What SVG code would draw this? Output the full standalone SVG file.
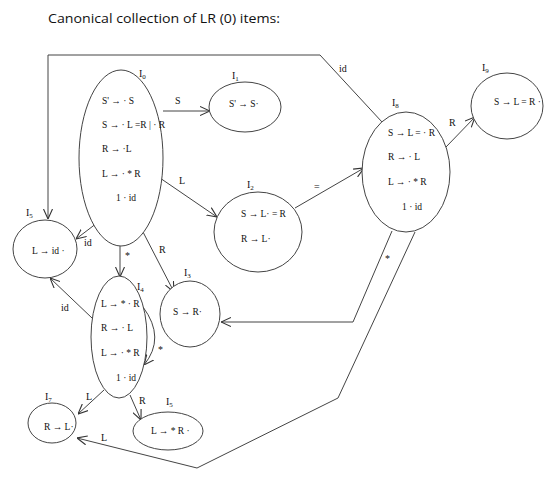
<svg xmlns="http://www.w3.org/2000/svg" width="557" height="479" viewBox="0 0 557 479">
<defs>
<marker id="ah" viewBox="0 0 10 10" refX="10" refY="5" markerWidth="10" markerHeight="10" markerUnits="userSpaceOnUse" orient="auto">
<path d="M0,0.5 L10,5 L0,9.5" fill="none" stroke="#333" stroke-width="1.1"/>
</marker>
<style>
.n{fill:#fff;stroke:#444;stroke-width:1}
.t{font-family:'Liberation Serif','Times New Roman',serif;font-size:9.5px;fill:#111}
.l{font-family:'Liberation Serif','Times New Roman',serif;font-size:10px;fill:#111}
.c{fill:none;stroke:#444;stroke-width:1}
.a{marker-end:url(#ah)}
</style>
</defs>
<rect width="557" height="479" fill="#fff"/>
<text x="48" y="23" font-family="Open Sans, Liberation Sans, sans-serif" font-size="13" fill="#111" textLength="232" lengthAdjust="spacingAndGlyphs">Canonical collection of LR (0) items:</text>

<g id="connectors">
<polyline class="c a" points="382,122 320,55 48,55 48,219"/>
<line class="c a" x1="163" y1="111" x2="210" y2="111" stroke-width="2"/>
<line class="c a" x1="160" y1="178" x2="217" y2="217"/>
<line class="c a" x1="295" y1="208" x2="364" y2="168"/>
<line class="c a" x1="446" y1="147" x2="475" y2="117"/>
<line class="c a" x1="97" y1="223" x2="76" y2="239"/>
<line class="c a" x1="120" y1="246" x2="120" y2="277"/>
<line class="c a" x1="143" y1="232" x2="174" y2="292"/>
<line class="c a" x1="92" y1="318" x2="50" y2="278"/>
<path class="c a" d="M143,307 Q166,338 144,365"/>
<line class="c a" x1="104" y1="390" x2="78" y2="414"/>
<line class="c a" x1="130" y1="395" x2="141" y2="420"/>
<polyline class="c a" points="392,231 353,322 221,322"/>
<polyline class="c a" points="415,232 338,398 197,468 77,438"/>
<text class="l" x="339" y="72">id</text>
<text class="l" x="175" y="104">S</text>
<text class="l" x="179" y="184">L</text>
<text class="l" x="314" y="190">=</text>
<text class="l" x="449" y="126">R</text>
<text class="l" x="84" y="246">id</text>
<text class="l" x="125" y="259">*</text>
<text class="l" x="159" y="253">R</text>
<text class="l" x="61" y="311">id</text>
<text class="l" x="158" y="353">*</text>
<text class="l" x="86" y="400">L</text>
<text class="l" x="139" y="404">R</text>
<text class="l" x="385" y="262">*</text>
<text class="l" x="101" y="441">L</text>
</g>

<g id="I0">
<ellipse class="n" cx="121" cy="158" rx="42" ry="88"/>
<text class="l" x="139" y="77">I<tspan font-size="7" dy="2">0</tspan></text>
<text class="t" x="102" y="104">S' → · S</text>
<text class="t" x="102" y="128">S → · L =R | · R</text>
<text class="t" x="102" y="152">R → ·L</text>
<text class="t" x="102" y="177">L → · * R</text>
<text class="t" x="116" y="201">1 · id</text>
</g>
<g id="I1">
<ellipse class="n" cx="245" cy="107" rx="36" ry="25"/>
<text class="l" x="232" y="79">I<tspan font-size="7" dy="2">1</tspan></text>
<text class="t" x="229" y="107">S' → S·</text>
</g>
<g id="I2">
<ellipse class="n" cx="258" cy="232" rx="44" ry="40"/>
<text class="l" x="247" y="188">I<tspan font-size="7" dy="2">2</tspan></text>
<text class="t" x="241" y="217">S → L· = R</text>
<text class="t" x="241" y="242">R → L·</text>
</g>
<g id="I8">
<ellipse class="n" cx="406" cy="172" rx="44" ry="60"/>
<text class="l" x="392" y="106">I<tspan font-size="7" dy="2">8</tspan></text>
<text class="t" x="388" y="136">S → L = · R</text>
<text class="t" x="388" y="160">R → · L</text>
<text class="t" x="388" y="185">L → · * R</text>
<text class="t" x="402" y="210">1 · id</text>
</g>
<g id="I9">
<ellipse class="n" cx="507" cy="106" rx="36" ry="33"/>
<text class="l" x="482" y="71">I<tspan font-size="7" dy="2">9</tspan></text>
<text class="t" x="494" y="105">S → L = R ·</text>
</g>
<g id="I5">
<ellipse class="n" cx="45" cy="249" rx="32" ry="29"/>
<text class="l" x="26" y="216">I<tspan font-size="7" dy="2">5</tspan></text>
<text class="t" x="32" y="254">L → id ·</text>
</g>
<g id="I4">
<ellipse class="n" cx="119" cy="337" rx="28" ry="61"/>
<text class="l" x="137" y="290">I<tspan font-size="7" dy="2">4</tspan></text>
<text class="t" x="101" y="307">L → * · R</text>
<text class="t" x="101" y="331">R → · L</text>
<text class="t" x="101" y="356">L → · * R</text>
<text class="t" x="116" y="381">1 · id</text>
</g>
<g id="I3">
<ellipse class="n" cx="190" cy="314" rx="30" ry="33"/>
<text class="l" x="184" y="276">I<tspan font-size="7" dy="2">3</tspan></text>
<text class="t" x="173" y="315">S → R·</text>
</g>
<g id="I7">
<ellipse class="n" cx="52" cy="423" rx="24" ry="20"/>
<text class="l" x="45" y="400">I<tspan font-size="7" dy="2">7</tspan></text>
<text class="t" x="44" y="430">R → L·</text>
</g>
<g id="I6">
<ellipse class="n" cx="168" cy="431" rx="35" ry="19"/>
<text class="l" x="166" y="405">I<tspan font-size="7" dy="2">5</tspan></text>
<text class="t" x="151" y="434">L → * R ·</text>
</g>
</svg>
